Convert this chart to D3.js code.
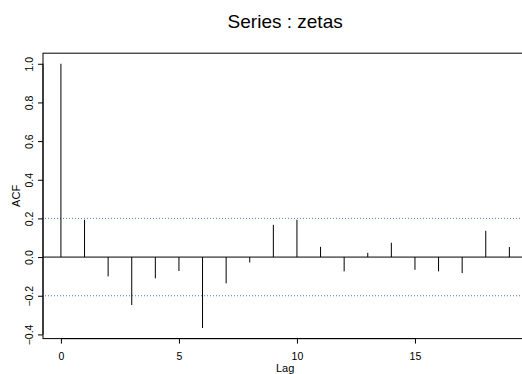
<!DOCTYPE html>
<html>
<head>
<meta charset="utf-8">
<script src="https://cdn.jsdelivr.net/npm/d3@7"></script>
<style>
  body { margin: 0; background: #fff; }
  svg { display: block; font-family: "Liberation Sans", Arial, sans-serif; }
</style>
</head>
<body>
<div id="chart"></div>
<script>
// acf of zetas
const lags = d3.range(0, 20);
const acf = [1.0, 0.193, -0.100, -0.248, -0.110, -0.072, -0.367, -0.136, -0.028, 0.167,
             0.193, 0.053, -0.074, 0.022, 0.074, -0.066, -0.074, -0.083, 0.136, 0.052];
const ciLevel = 0.2;
const xTicks = [0, 5, 10, 15];
const yTicks = [-0.4, -0.2, 0.0, 0.2, 0.4, 0.6, 0.8, 1.0];
const title = "Series : zetas";

const width = 522, height = 374;
// plot box (right edge runs off the picture, like the original)
const box = { left: 43, right: 527.3, top: 53.2, bottom: 338.6 };

// R style 4% padding on both ranges
const pad = (lo, hi) => [lo - (hi - lo) * 0.04, hi + (hi - lo) * 0.04];

const x = d3.scaleLinear()
  .domain(pad(d3.min(lags), d3.max(lags)))
  .range([box.left, box.right]);
const y = d3.scaleLinear()
  .domain(pad(d3.min(acf), d3.max(acf)))
  .range([box.bottom, box.top]);

const svg = d3.select("#chart").append("svg")
  .attr("width", width)
  .attr("height", height);

// box
svg.append("rect")
  .attr("x", box.left).attr("y", box.top)
  .attr("width", box.right - box.left)
  .attr("height", box.bottom - box.top)
  .attr("fill", "none")
  .attr("stroke", "#000")
  .attr("stroke-width", 1);

// confidence bounds
svg.selectAll(".ci")
  .data([ciLevel, -ciLevel])
  .enter().append("line")
  .attr("x1", box.left + 2).attr("x2", box.right)
  .attr("y1", d => y(d)).attr("y2", d => y(d))
  .attr("stroke", "#4f7fbd")
  .attr("stroke-width", 1)
  .attr("stroke-dasharray", "1,2");

// zero line
svg.append("line")
  .attr("x1", box.left).attr("x2", box.right)
  .attr("y1", y(0)).attr("y2", y(0))
  .attr("stroke", "#000")
  .attr("stroke-width", 1);

// spikes
svg.selectAll(".spike")
  .data(lags)
  .enter().append("line")
  .attr("class", "spike")
  .attr("x1", d => x(d)).attr("x2", d => x(d))
  .attr("y1", y(0)).attr("y2", (d, i) => y(acf[i]))
  .attr("stroke", "#000")
  .attr("stroke-width", 1);

// x axis
const xAxis = svg.append("g")
  .attr("transform", "translate(0," + box.bottom + ")")
  .call(d3.axisBottom(x).tickValues(xTicks).tickSize(5).tickPadding(9).tickFormat(d3.format("d")));
xAxis.select(".domain").attr("d", "M" + x(0) + ",0H" + x(15)).attr("stroke", "#000");
xAxis.selectAll("text").style("font-size", "10.5px").attr("fill", "#000");

// y axis, labels turned like R's las=0
const yAxis = svg.append("g")
  .attr("transform", "translate(" + box.left + ",0)")
  .call(d3.axisLeft(y).tickValues(yTicks).tickSize(5).tickFormat(d3.format(".1f")));
yAxis.select(".domain").attr("d", "M0," + y(-0.4) + "V" + y(1.0)).attr("stroke", "#000");
yAxis.selectAll("text")
  .style("font-size", "10.5px")
  .attr("fill", "#000")
  .attr("x", 0).attr("y", 0).attr("dy", 0)
  .attr("text-anchor", "middle")
  .attr("transform", "translate(-10,0) rotate(-90)");

// labels
svg.append("text")
  .attr("x", (box.left + box.right) / 2)
  .attr("y", 28)
  .attr("text-anchor", "middle")
  .style("font-size", "19px")
  .text(title);

svg.append("text")
  .attr("x", (box.left + box.right) / 2)
  .attr("y", 372)
  .attr("text-anchor", "middle")
  .style("font-size", "11px")
  .text("Lag");

svg.append("text")
  .attr("transform", "translate(19.5," + (box.top + box.bottom) / 2 + ") rotate(-90)")
  .attr("text-anchor", "middle")
  .style("font-size", "11px")
  .text("ACF");
</script>
</body>
</html>
